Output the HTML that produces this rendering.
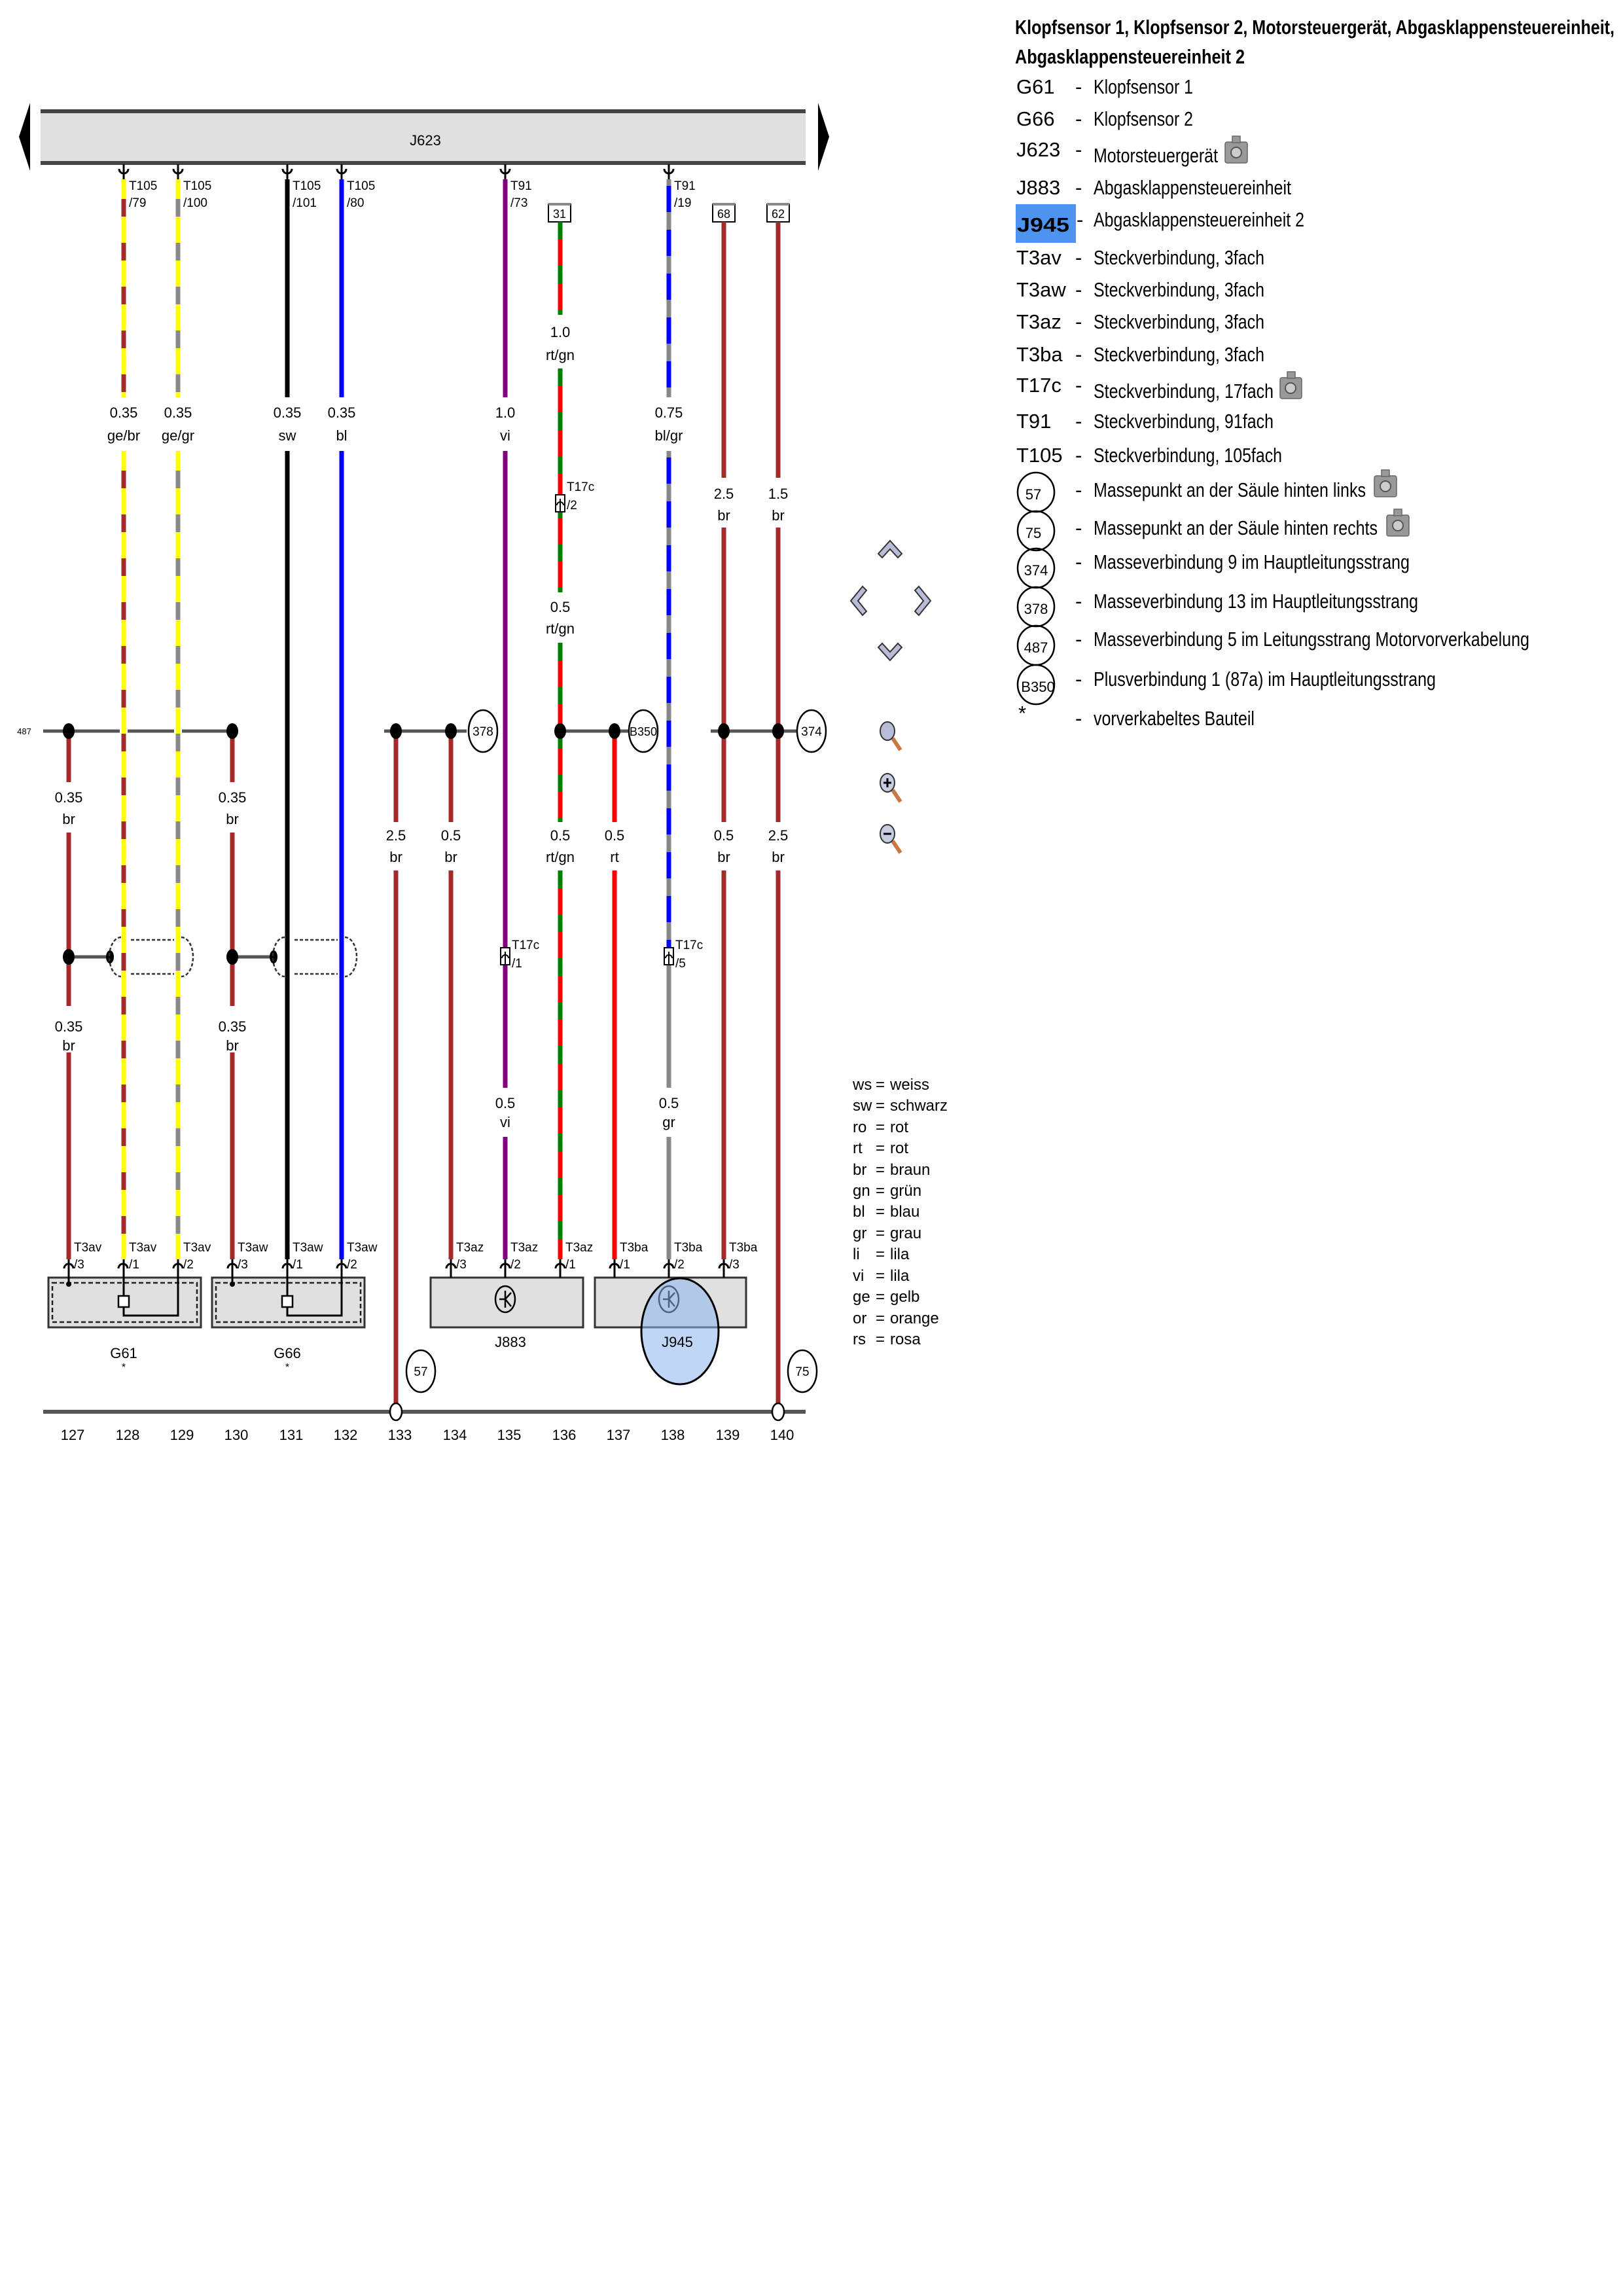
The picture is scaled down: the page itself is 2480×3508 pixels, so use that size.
<!DOCTYPE html>
<html><head><meta charset="utf-8"><style>
html,body{margin:0;padding:0;background:#fff}
svg{display:block}
text{font-family:"Liberation Sans Narrow","Liberation Sans",sans-serif;fill:#000}
.s{font-size:19px}
.m{font-size:22px;text-anchor:middle}
.n{font-size:22px;text-anchor:middle}
.lg{font-size:31px}
.cl{font-size:24px}
</style></head><body>
<svg width="2480" height="3508" viewBox="0 0 2480 3508" xmlns="http://www.w3.org/2000/svg">
<!-- J623 bar -->
<polygon points="46,157 29,209 46,261" fill="#000"/>
<polygon points="1250,157 1267,209 1250,261" fill="#000"/>
<rect x="62" y="172" width="1169" height="76" fill="#e0e0e0"/>
<rect x="62" y="167" width="1169" height="6" fill="#444"/>
<rect x="62" y="246" width="1169" height="6" fill="#444"/>
<text x="650" y="222" class="m">J623</text>

<!-- boxes 31 68 62 -->
<g fill="#fff" stroke="#000" stroke-width="2">
<rect x="838" y="312" width="34" height="27"/><rect x="1089" y="312" width="34" height="27"/><rect x="1172" y="312" width="34" height="27"/>
</g>
<g fill="#888"><rect x="838" y="310" width="34" height="4"/><rect x="1089" y="310" width="34" height="4"/><rect x="1172" y="310" width="34" height="4"/></g>
<text x="855" y="333" class="m" style="font-size:18px">31</text>
<text x="1106" y="333" class="m" style="font-size:18px">68</text>
<text x="1189" y="333" class="m" style="font-size:18px">62</text>

<!-- wires -->
<g stroke-width="7" fill="none">
<!-- 128 ge/br -->
<path d="M189,274V607M189,689V1924" stroke="#ffff00"/>
<path d="M189,274V607M189,689V1924" stroke="#a52a2a" stroke-dasharray="27 40" stroke-dashoffset="-30"/>
<!-- 129 ge/gr -->
<path d="M272,274V607M272,689V1924" stroke="#ffff00"/>
<path d="M272,274V607M272,689V1924" stroke="#888" stroke-dasharray="27 40" stroke-dashoffset="-30"/>
<!-- 131 sw -->
<path d="M439,274V607M439,689V1924" stroke="#000"/>
<!-- 132 bl -->
<path d="M522,274V607M522,689V1924" stroke="#0000ff"/>
<!-- 135 vi -->
<path d="M772,274V607M772,689V1662M772,1737V1924" stroke="#800080"/>
<!-- 136 rt/gn -->
<path d="M856,339V481M856,563V905M856,982V1256M856,1330V1924" stroke="#ff0000"/>
<path d="M856,339V481M856,563V905M856,982V1256M856,1330V1924" stroke="#008000" stroke-dasharray="27 40" stroke-dashoffset="0"/>
<!-- 138 bl/gr -> gr -->
<path d="M1022,274V607M1022,689V1450" stroke="#0000ff"/>
<path d="M1022,274V607M1022,689V1450" stroke="#888" stroke-dasharray="27 40" stroke-dashoffset="-50"/>
<path d="M1022,1450V1662M1022,1737V1924" stroke="#888"/>
<!-- browns -->
<path d="M1106,339V730M1106,806V1256M1106,1330V1924" stroke="#a52a2a"/>
<path d="M1189,339V730M1189,806V1256M1189,1330V2150" stroke="#a52a2a"/>
<path d="M105,1117V1195M105,1272V1537M105,1608V1924" stroke="#a52a2a"/>
<path d="M355,1117V1195M355,1272V1537M355,1608V1924" stroke="#a52a2a"/>
<path d="M605,1117V1256M605,1330V2150" stroke="#a52a2a"/>
<path d="M689,1117V1256M689,1330V1924" stroke="#a52a2a"/>
<path d="M939,1117V1256M939,1330V1924" stroke="#ff0000"/>
</g>

<!-- top connectors -->
<g stroke="#000" stroke-width="3" fill="none">
<path d="M182,258A7,7 0 0 0 196,258M189,251V274"/>
<path d="M265,258A7,7 0 0 0 279,258M272,251V274"/>
<path d="M432,258A7,7 0 0 0 446,258M439,251V274"/>
<path d="M515,258A7,7 0 0 0 529,258M522,251V274"/>
<path d="M765,258A7,7 0 0 0 779,258M772,251V274"/>
<path d="M1015,258A7,7 0 0 0 1029,258M1022,251V274"/>
</g>
<g class="s">
<text x="197" y="290">T105</text><text x="197" y="316">/79</text>
<text x="280" y="290">T105</text><text x="280" y="316">/100</text>
<text x="447" y="290">T105</text><text x="447" y="316">/101</text>
<text x="530" y="290">T105</text><text x="530" y="316">/80</text>
<text x="780" y="290">T91</text><text x="780" y="316">/73</text>
<text x="1030" y="290">T91</text><text x="1030" y="316">/19</text>
</g>

<!-- wire labels -->
<g class="m">
<text x="189" y="638">0.35</text><text x="189" y="673">ge/br</text>
<text x="272" y="638">0.35</text><text x="272" y="673">ge/gr</text>
<text x="439" y="638">0.35</text><text x="439" y="673">sw</text>
<text x="522" y="638">0.35</text><text x="522" y="673">bl</text>
<text x="772" y="638">1.0</text><text x="772" y="673">vi</text>
<text x="1022" y="638">0.75</text><text x="1022" y="673">bl/gr</text>
<text x="856" y="515">1.0</text><text x="856" y="550">rt/gn</text>
<text x="856" y="935">0.5</text><text x="856" y="968">rt/gn</text>
<text x="1106" y="762">2.5</text><text x="1106" y="795">br</text>
<text x="1189" y="762">1.5</text><text x="1189" y="795">br</text>
<text x="605" y="1284">2.5</text><text x="605" y="1317">br</text>
<text x="689" y="1284">0.5</text><text x="689" y="1317">br</text>
<text x="856" y="1284">0.5</text><text x="856" y="1317">rt/gn</text>
<text x="939" y="1284">0.5</text><text x="939" y="1317">rt</text>
<text x="1106" y="1284">0.5</text><text x="1106" y="1317">br</text>
<text x="1189" y="1284">2.5</text><text x="1189" y="1317">br</text>
<text x="105" y="1226">0.35</text><text x="105" y="1259">br</text>
<text x="355" y="1226">0.35</text><text x="355" y="1259">br</text>
<text x="105" y="1576">0.35</text><text x="105" y="1605">br</text>
<text x="355" y="1576">0.35</text><text x="355" y="1605">br</text>
<text x="772" y="1693">0.5</text><text x="772" y="1722">vi</text>
<text x="1022" y="1693">0.5</text><text x="1022" y="1722">gr</text>
</g>

<!-- T17c connectors -->
<g fill="#fff" stroke="#000" stroke-width="2">
<rect x="849" y="756" width="14" height="26"/><rect x="765" y="1448" width="14" height="26"/><rect x="1015" y="1448" width="14" height="26"/>
</g>
<g stroke="#000" stroke-width="2" fill="none">
<path d="M851,772A5,5 0 0 1 861,772M856,762V782"/>
<path d="M767,1464A5,5 0 0 1 777,1464M772,1454V1474"/>
<path d="M1017,1464A5,5 0 0 1 1027,1464M1022,1454V1474"/>
</g>
<g class="s">
<text x="866" y="750">T17c</text><text x="866" y="778">/2</text>
<text x="782" y="1450">T17c</text><text x="782" y="1478">/1</text>
<text x="1032" y="1450">T17c</text><text x="1032" y="1478">/5</text>
</g>

<!-- ground horizontal lines -->
<g stroke="#555" stroke-width="5">
<path d="M66,1117H183M195,1117H266M278,1117H357"/>
<path d="M587,1117H713M856,1117H962M1086,1117H1219"/>
</g>
<text x="37" y="1122" class="m" style="font-size:13px">487</text>
<g fill="#fff" stroke="#000" stroke-width="2.5">
<ellipse cx="738" cy="1117" rx="22" ry="32"/><ellipse cx="983" cy="1117" rx="22" ry="32"/><ellipse cx="1240" cy="1117" rx="22" ry="32"/>
</g>
<text x="738" y="1124" class="m" style="font-size:19px">378</text>
<text x="983" y="1124" class="m" style="font-size:18px">B350</text>
<text x="1240" y="1124" class="m" style="font-size:19px">374</text>
<g fill="#000">
<ellipse cx="105" cy="1117" rx="9" ry="12"/><ellipse cx="355" cy="1117" rx="9" ry="12"/><ellipse cx="605" cy="1117" rx="9" ry="12"/><ellipse cx="689" cy="1117" rx="9" ry="12"/>
<ellipse cx="856" cy="1117" rx="9" ry="12"/><ellipse cx="939" cy="1117" rx="9" ry="12"/><ellipse cx="1106" cy="1117" rx="9" ry="12"/><ellipse cx="1189" cy="1117" rx="9" ry="12"/>
</g>

<!-- shield splices -->
<g stroke="#555" stroke-width="5"><path d="M105,1462H168M355,1462H418"/></g>
<g fill="#000"><ellipse cx="105" cy="1462" rx="9" ry="12"/><ellipse cx="168" cy="1462" rx="6" ry="10"/><ellipse cx="355" cy="1462" rx="9" ry="12"/><ellipse cx="418" cy="1462" rx="6" ry="10"/></g>
<g stroke="#333" stroke-width="2.5" fill="none" stroke-dasharray="5 3">
<path d="M185,1432A18,30 0 0 0 185,1492M277,1432A18,30 0 0 1 277,1492M200,1436H266M200,1488H266"/>
<path d="M435,1432A18,30 0 0 0 435,1492M527,1432A18,30 0 0 1 527,1492M450,1436H516M450,1488H516"/>
</g>

<!-- bottom components -->
<g fill="#e0e0e0" stroke="#333" stroke-width="3">
<rect x="74" y="1952" width="233" height="76"/><rect x="324" y="1952" width="233" height="76"/>
<rect x="658" y="1952" width="233" height="76"/><rect x="909" y="1952" width="231" height="76"/>
</g>
<g fill="none" stroke="#222" stroke-width="2.5" stroke-dasharray="7 4">
<rect x="80" y="1960" width="221" height="60"/><rect x="330" y="1960" width="221" height="60"/>
</g>
<g fill="none" stroke="#000" stroke-width="3">
<path d="M105,1924V1962M189,1924V1980M189,1997V2010H272V1924"/>
<path d="M355,1924V1962M439,1924V1980M439,1997V2010H522V1924"/>
<path d="M689,1924V1952M772,1924V1952M856,1924V1952M939,1924V1952M1022,1924V1952M1106,1924V1952"/>
</g>
<g fill="#000"><circle cx="105" cy="1962" r="4"/><circle cx="355" cy="1962" r="4"/></g>
<g fill="#fff" stroke="#000" stroke-width="2.5"><rect x="181" y="1980" width="16" height="17"/><rect x="431" y="1980" width="16" height="17"/></g>
<!-- bottom connectors -->
<g stroke="#000" stroke-width="3" fill="none">
<path d="M98,1938A7,7 0 0 1 112,1938M181,1938A7,7 0 0 1 195,1938M265,1938A7,7 0 0 1 279,1938"/>
<path d="M348,1938A7,7 0 0 1 362,1938M432,1938A7,7 0 0 1 446,1938M515,1938A7,7 0 0 1 529,1938"/>
<path d="M682,1938A7,7 0 0 1 696,1938M765,1938A7,7 0 0 1 779,1938M849,1938A7,7 0 0 1 863,1938"/>
<path d="M932,1938A7,7 0 0 1 946,1938M1015,1938A7,7 0 0 1 1029,1938M1099,1938A7,7 0 0 1 1113,1938"/>
</g>
<g class="s">
<text x="113" y="1912">T3av</text><text x="113" y="1938">/3</text>
<text x="197" y="1912">T3av</text><text x="197" y="1938">/1</text>
<text x="280" y="1912">T3av</text><text x="280" y="1938">/2</text>
<text x="363" y="1912">T3aw</text><text x="363" y="1938">/3</text>
<text x="447" y="1912">T3aw</text><text x="447" y="1938">/1</text>
<text x="530" y="1912">T3aw</text><text x="530" y="1938">/2</text>
<text x="697" y="1912">T3az</text><text x="697" y="1938">/3</text>
<text x="780" y="1912">T3az</text><text x="780" y="1938">/2</text>
<text x="864" y="1912">T3az</text><text x="864" y="1938">/1</text>
<text x="947" y="1912">T3ba</text><text x="947" y="1938">/1</text>
<text x="1030" y="1912">T3ba</text><text x="1030" y="1938">/2</text>
<text x="1114" y="1912">T3ba</text><text x="1114" y="1938">/3</text>
</g>
<!-- J883 / J945 symbols -->
<g fill="none" stroke="#000" stroke-width="2.5">
<ellipse cx="772" cy="1985" rx="15" ry="20"/><path d="M772,1972V1998M772,1985L781,1975M772,1985L781,1996M763,1985H772"/>
<ellipse cx="1022" cy="1985" rx="15" ry="20"/><path d="M1022,1972V1998M1022,1985L1031,1975M1022,1985L1031,1996M1013,1985H1022"/>
</g>
<ellipse cx="1039" cy="2034" rx="59" ry="81" fill="rgba(140,180,240,0.55)" stroke="#000" stroke-width="3"/>
<g class="m">
<text x="189" y="2075">G61</text><text x="189" y="2094" style="font-size:16px">*</text>
<text x="439" y="2075">G66</text><text x="439" y="2094" style="font-size:16px">*</text>
<text x="780" y="2058">J883</text>
<text x="1035" y="2058">J945</text>
</g>
<!-- bottom line & grounds -->
<rect x="66" y="2154" width="1165" height="6" fill="#555"/>
<g fill="#fff" stroke="#000" stroke-width="2.5">
<ellipse cx="605" cy="2157" rx="9" ry="13"/><ellipse cx="1189" cy="2157" rx="9" ry="13"/>
<ellipse cx="643" cy="2095" rx="22" ry="32"/><ellipse cx="1226" cy="2095" rx="22" ry="32"/>
</g>
<text x="643" y="2102" class="m" style="font-size:19px">57</text>
<text x="1226" y="2102" class="m" style="font-size:19px">75</text>
<g class="n">
<text x="111" y="2200">127</text><text x="195" y="2200">128</text><text x="278" y="2200">129</text><text x="361" y="2200">130</text>
<text x="445" y="2200">131</text><text x="528" y="2200">132</text><text x="611" y="2200">133</text><text x="695" y="2200">134</text>
<text x="778" y="2200">135</text><text x="862" y="2200">136</text><text x="945" y="2200">137</text><text x="1028" y="2200">138</text>
<text x="1112" y="2200">139</text><text x="1195" y="2200">140</text>
</g>

<!-- navigation icons -->
<g fill="#b8bcd8" stroke="#333" stroke-width="2">
<polygon points="1360,826 1378,846 1372,852 1360,839 1348,852 1342,846"/>
<polygon points="1360,1009 1378,989 1372,983 1360,996 1348,983 1342,989"/>
<polygon points="1300,918 1318,896 1324,902 1311,918 1324,934 1318,940"/>
<polygon points="1422,918 1404,896 1398,902 1411,918 1398,934 1404,940"/>
</g>
<g stroke="#333" stroke-width="2">
<path d="M1364,1128L1376,1146" stroke="#c87840" stroke-width="6"/>
<ellipse cx="1356" cy="1117" rx="11" ry="14" fill="#b8bcd8"/>
<path d="M1364,1207L1376,1225" stroke="#c87840" stroke-width="6"/>
<ellipse cx="1356" cy="1196" rx="11" ry="14" fill="#c8cce0"/>
<path d="M1350,1196H1362M1356,1189V1203" stroke="#000" stroke-width="3"/>
<path d="M1364,1285L1376,1303" stroke="#c87840" stroke-width="6"/>
<ellipse cx="1356" cy="1274" rx="11" ry="14" fill="#c8cce0"/>
<path d="M1350,1274H1362" stroke="#000" stroke-width="3"/>
</g>

<!-- color legend -->
<g class="cl">
<text x="1303" y="1665">ws</text><text x="1338" y="1665">=</text><text x="1360" y="1665">weiss</text>
<text x="1303" y="1697">sw</text><text x="1338" y="1697">=</text><text x="1360" y="1697">schwarz</text>
<text x="1303" y="1730">ro</text><text x="1338" y="1730">=</text><text x="1360" y="1730">rot</text>
<text x="1303" y="1762">rt</text><text x="1338" y="1762">=</text><text x="1360" y="1762">rot</text>
<text x="1303" y="1795">br</text><text x="1338" y="1795">=</text><text x="1360" y="1795">braun</text>
<text x="1303" y="1827">gn</text><text x="1338" y="1827">=</text><text x="1360" y="1827">grün</text>
<text x="1303" y="1859">bl</text><text x="1338" y="1859">=</text><text x="1360" y="1859">blau</text>
<text x="1303" y="1892">gr</text><text x="1338" y="1892">=</text><text x="1360" y="1892">grau</text>
<text x="1303" y="1924">li</text><text x="1338" y="1924">=</text><text x="1360" y="1924">lila</text>
<text x="1303" y="1957">vi</text><text x="1338" y="1957">=</text><text x="1360" y="1957">lila</text>
<text x="1303" y="1989">ge</text><text x="1338" y="1989">=</text><text x="1360" y="1989">gelb</text>
<text x="1303" y="2022">or</text><text x="1338" y="2022">=</text><text x="1360" y="2022">orange</text>
<text x="1303" y="2054">rs</text><text x="1338" y="2054">=</text><text x="1360" y="2054">rosa</text>
</g>

<!-- right legend -->
<text x="1551" y="52" class="lg" style="font-weight:bold" textLength="916" lengthAdjust="spacingAndGlyphs">Klopfsensor 1, Klopfsensor 2, Motorsteuergerät, Abgasklappensteuereinheit,</text>
<text x="1551" y="97" class="lg" style="font-weight:bold" textLength="351" lengthAdjust="spacingAndGlyphs">Abgasklappensteuereinheit 2</text>
<rect x="1552" y="312" width="92" height="59" fill="#4d94f0"/>
<g class="lg">
<text x="1553" y="143">G61</text><text x="1643" y="143">-</text><text x="1671" y="143" textLength="152" lengthAdjust="spacingAndGlyphs">Klopfsensor 1</text>
<text x="1553" y="192">G66</text><text x="1643" y="192">-</text><text x="1671" y="192" textLength="152" lengthAdjust="spacingAndGlyphs">Klopfsensor 2</text>
<text x="1553" y="239">J623</text><text x="1643" y="239">-</text><text x="1671" y="248" textLength="190" lengthAdjust="spacingAndGlyphs">Motorsteuergerät</text>
<text x="1553" y="297">J883</text><text x="1643" y="297">-</text><text x="1671" y="297" textLength="302" lengthAdjust="spacingAndGlyphs">Abgasklappensteuereinheit</text>
<text x="1554" y="354" style="font-weight:bold;font-family:'Liberation Sans',sans-serif" textLength="80" lengthAdjust="spacingAndGlyphs">J945</text><text x="1645" y="346">-</text><text x="1671" y="346" textLength="322" lengthAdjust="spacingAndGlyphs">Abgasklappensteuereinheit 2</text>
<text x="1553" y="404">T3av</text><text x="1643" y="404">-</text><text x="1671" y="404" textLength="261" lengthAdjust="spacingAndGlyphs">Steckverbindung, 3fach</text>
<text x="1553" y="453">T3aw</text><text x="1643" y="453">-</text><text x="1671" y="453" textLength="261" lengthAdjust="spacingAndGlyphs">Steckverbindung, 3fach</text>
<text x="1553" y="502">T3az</text><text x="1643" y="502">-</text><text x="1671" y="502" textLength="261" lengthAdjust="spacingAndGlyphs">Steckverbindung, 3fach</text>
<text x="1553" y="552">T3ba</text><text x="1643" y="552">-</text><text x="1671" y="552" textLength="261" lengthAdjust="spacingAndGlyphs">Steckverbindung, 3fach</text>
<text x="1553" y="599">T17c</text><text x="1643" y="599">-</text><text x="1671" y="608" textLength="275" lengthAdjust="spacingAndGlyphs">Steckverbindung, 17fach</text>
<text x="1553" y="654">T91</text><text x="1643" y="654">-</text><text x="1671" y="654" textLength="275" lengthAdjust="spacingAndGlyphs">Steckverbindung, 91fach</text>
<text x="1553" y="706">T105</text><text x="1643" y="706">-</text><text x="1671" y="706" textLength="288" lengthAdjust="spacingAndGlyphs">Steckverbindung, 105fach</text>
<text x="1643" y="759">-</text><text x="1671" y="759" textLength="416" lengthAdjust="spacingAndGlyphs">Massepunkt an der Säule hinten links</text>
<text x="1643" y="817">-</text><text x="1671" y="817" textLength="434" lengthAdjust="spacingAndGlyphs">Massepunkt an der Säule hinten rechts</text>
<text x="1643" y="869">-</text><text x="1671" y="869" textLength="483" lengthAdjust="spacingAndGlyphs">Masseverbindung 9 im Hauptleitungsstrang</text>
<text x="1643" y="929">-</text><text x="1671" y="929" textLength="496" lengthAdjust="spacingAndGlyphs">Masseverbindung 13 im Hauptleitungsstrang</text>
<text x="1643" y="987">-</text><text x="1671" y="987" textLength="666" lengthAdjust="spacingAndGlyphs">Masseverbindung 5 im Leitungsstrang Motorvorverkabelung</text>
<text x="1643" y="1048">-</text><text x="1671" y="1048" textLength="523" lengthAdjust="spacingAndGlyphs">Plusverbindung 1 (87a) im Hauptleitungsstrang</text>
<text x="1556" y="1100">*</text><text x="1643" y="1108">-</text><text x="1671" y="1108" textLength="246" lengthAdjust="spacingAndGlyphs">vorverkabeltes Bauteil</text>
</g>
<!-- legend circles -->
<g fill="none" stroke="#000" stroke-width="2.5">
<ellipse cx="1583" cy="752" rx="28" ry="30"/><ellipse cx="1583" cy="811" rx="28" ry="30"/><ellipse cx="1583" cy="868" rx="28" ry="30"/>
<ellipse cx="1583" cy="927" rx="28" ry="30"/><ellipse cx="1583" cy="986" rx="28" ry="30"/><ellipse cx="1583" cy="1046" rx="28" ry="30"/>
</g>
<g class="m" style="font-size:22px">
<text x="1579" y="763">57</text><text x="1579" y="822">75</text><text x="1583" y="879">374</text>
<text x="1583" y="938">378</text><text x="1583" y="997">487</text><text x="1586" y="1057">B350</text>
</g>
<!-- camera icons -->
<g fill="#999" stroke="#666" stroke-width="1.5">
<rect x="1872" y="217" width="34" height="32" rx="3"/><rect x="1883" y="208" width="12" height="10"/>
<rect x="1956" y="577" width="33" height="32" rx="3"/><rect x="1967" y="568" width="12" height="10"/>
<rect x="2100" y="727" width="34" height="32" rx="3"/><rect x="2111" y="718" width="12" height="10"/>
<rect x="2119" y="787" width="34" height="32" rx="3"/><rect x="2130" y="778" width="12" height="10"/>
</g>
<g fill="#ccc" stroke="#555" stroke-width="2">
<circle cx="1889" cy="233" r="8"/><circle cx="1972" cy="593" r="8"/><circle cx="2117" cy="743" r="8"/><circle cx="2136" cy="803" r="8"/>
</g>
</svg>
</body></html>
